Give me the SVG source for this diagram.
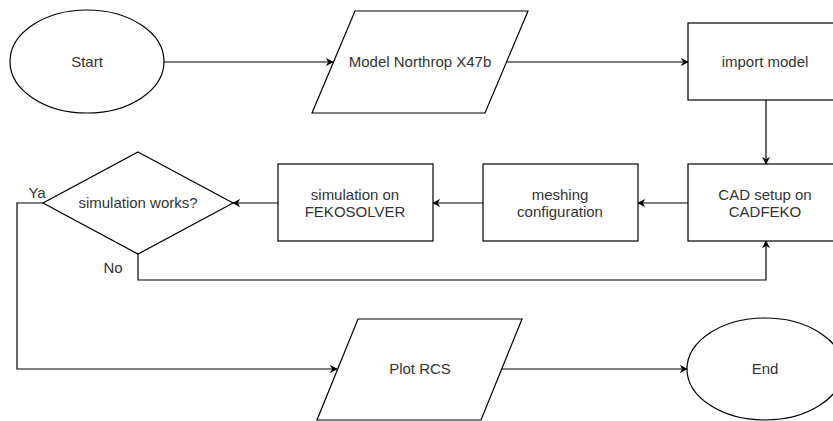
<svg xmlns="http://www.w3.org/2000/svg" width="833" height="421" viewBox="0 0 833 421">
  <style>
    .shape { fill: #ffffff; stroke: #000000; stroke-width: 1.2; }
    .edge { fill: none; stroke: #000000; stroke-width: 1.2; }
    .label { font-family: "Liberation Sans", Arial, sans-serif; font-size: 15px; fill: #333333; text-anchor: middle; }
  </style>
  <defs>
    <marker id="arrow" viewBox="0 0 10 10" refX="9" refY="5" markerWidth="8" markerHeight="8" markerUnits="userSpaceOnUse" orient="auto">
      <path d="M0,0 L10,5 L0,10 L3,5 z" fill="#000000"/>
    </marker>
  </defs>
  <rect width="833" height="421" fill="#ffffff"/>

  <g id="connectors">
    <path class="edge" d="M164,62 L333,62" marker-end="url(#arrow)"/>
    <path class="edge" d="M507,62 L688,62" marker-end="url(#arrow)"/>
    <path class="edge" d="M766,100 L766,164" marker-end="url(#arrow)"/>
    <path class="edge" d="M688,203 L638,203" marker-end="url(#arrow)"/>
    <path class="edge" d="M483,203 L433,203" marker-end="url(#arrow)"/>
    <path class="edge" d="M278,203 L233,203" marker-end="url(#arrow)"/>
    <path class="edge" d="M138,254 L138,280 L766,280 L766,241" marker-end="url(#arrow)"/>
    <path class="edge" d="M43,203 L17,203 L17,369 L337,369" marker-end="url(#arrow)"/>
    <path class="edge" d="M502,369 L687,369" marker-end="url(#arrow)"/>
    <text class="label" x="37" y="198">Ya</text>
    <text class="label" x="113" y="273">No</text>
  </g>

  <g id="start">
    <ellipse class="shape" cx="87" cy="61.5" rx="77" ry="51.5"/>
    <text class="label" x="87" y="67">Start</text>
  </g>

  <g id="model">
    <polygon class="shape" points="355,11 528,11 485,113 312,113"/>
    <text class="label" x="420" y="67">Model Northrop X47b</text>
  </g>

  <g id="import">
    <rect class="shape" x="688" y="23" width="155" height="77"/>
    <text class="label" x="765" y="67">import model</text>
  </g>

  <g id="cad">
    <rect class="shape" x="688" y="164" width="155" height="77"/>
    <text class="label" x="765" y="200">CAD setup on</text>
    <text class="label" x="765" y="217">CADFEKO</text>
  </g>

  <g id="meshing">
    <rect class="shape" x="483" y="164" width="155" height="77"/>
    <text class="label" x="560" y="200">meshing</text>
    <text class="label" x="560" y="217">configuration</text>
  </g>

  <g id="simulation">
    <rect class="shape" x="278" y="164" width="155" height="77"/>
    <text class="label" x="355" y="200">simulation on</text>
    <text class="label" x="355" y="217">FEKOSOLVER</text>
  </g>

  <g id="decision">
    <polygon class="shape" points="138,152 233,203 138,254 43,203"/>
    <text class="label" x="138" y="208">simulation works?</text>
  </g>

  <g id="plot">
    <polygon class="shape" points="358,319 522,319 481,420 317,420"/>
    <text class="label" x="420" y="374">Plot RCS</text>
  </g>

  <g id="end">
    <ellipse class="shape" cx="765" cy="369" rx="78" ry="51"/>
    <text class="label" x="765" y="374">End</text>
  </g>
</svg>
